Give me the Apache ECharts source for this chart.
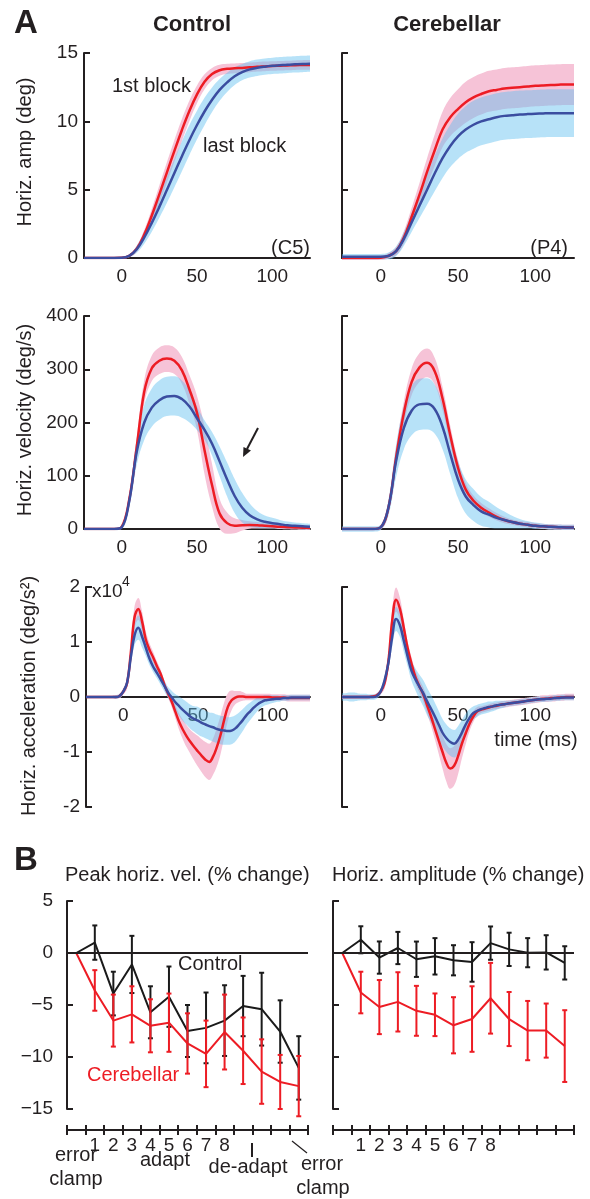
<!DOCTYPE html>
<html><head><meta charset="utf-8">
<script src="https://cdn.jsdelivr.net/npm/echarts@6/dist/echarts.min.js"></script>
<style>html,body{margin:0;padding:0;background:#fff}#c{width:590px;height:1199px}</style>
</head><body><div id="c"></div>
<script>
// ---------------- DATA ----------------
const timeMs = [-25,-20,-15,-10,-5,0,5,10,15,20,25,30,35,40,45,50,55,60,65,70,75,80,85,90,95,100,105,110,115,120,125];
const timeMsFine = [-25,-22.5,-20,-17.5,-15,-12.5,-10,-7.5,-5,-2.5,0,2.5,5,7.5,10,12.5,15,17.5,20,22.5,25,27.5,30,32.5,35,37.5,40,42.5,45,47.5,50,52.5,55,57.5,60,62.5,65,67.5,70,72.5,75,77.5,80,82.5,85,87.5,90,92.5,95,97.5,100,102.5,105,107.5,110,112.5,115,117.5,120,122.5,125];
const xTickLabels = ['0','50','100'];

// Amplitude (deg) - Control (C5)
const ampCtrlFirst   = [0,0,0,0,0, 0.01,0.16,0.68,1.71,3.11,4.66,6.25,7.84,9.37,10.77,11.97,12.89,13.46,13.74,13.84,13.88,13.91,13.95,13.99,14.02,14.05,14.07,14.09,14.11,14.12,14.13];
const ampCtrlFirstSd = [0.05,0.05,0.05,0.05,0.05, 0.05,0.1,0.2,0.35,0.5,0.65,0.75,0.8,0.8,0.75,0.65,0.55,0.45,0.4,0.38,0.36,0.35,0.35,0.35,0.35,0.35,0.35,0.35,0.35,0.35,0.35];
const ampCtrlLast    = [0,0,0,0,0, 0.01,0.15,0.64,1.5,2.57,3.74,4.97,6.22,7.45,8.64,9.73,10.72,11.58,12.3,12.85,13.3,13.6,13.8,13.92,14.0,14.06,14.1,14.14,14.17,14.2,14.22];
const ampCtrlLastSd  = [0.05,0.05,0.05,0.05,0.05, 0.05,0.1,0.25,0.45,0.65,0.8,0.95,1.05,1.1,1.1,1.05,1.0,0.9,0.8,0.7,0.65,0.6,0.6,0.6,0.6,0.6,0.6,0.6,0.6,0.6,0.6];
// Amplitude (deg) - Cerebellar (P4)
const ampCereFirst   = [0,0,0,0,0, 0.02,0.15,0.5,1.5,3.0,4.6,6.3,7.9,9.4,10.3,10.9,11.4,11.75,12.0,12.2,12.3,12.4,12.45,12.5,12.55,12.6,12.63,12.65,12.68,12.7,12.7];
const ampCereFirstSd = [0.15,0.15,0.15,0.15,0.15, 0.15,0.2,0.3,0.45,0.65,0.85,1.0,1.15,1.3,1.4,1.45,1.5,1.5,1.5,1.5,1.5,1.5,1.5,1.5,1.5,1.5,1.5,1.5,1.5,1.5,1.5];
const ampCereLast    = [0.1,0.1,0.1,0.1,0.1, 0.1,0.15,0.5,1.4,2.6,3.8,5.0,6.2,7.3,8.2,8.9,9.4,9.75,10.0,10.15,10.3,10.4,10.45,10.5,10.53,10.55,10.58,10.6,10.6,10.6,10.6];
const ampCereLastSd  = [0.2,0.2,0.2,0.2,0.2, 0.2,0.25,0.35,0.5,0.7,0.9,1.1,1.3,1.45,1.55,1.65,1.7,1.75,1.75,1.75,1.75,1.75,1.75,1.75,1.75,1.75,1.75,1.75,1.75,1.75,1.75];

// Velocity (deg/s)
const velCtrlFirst   = [0,0,0,0,0, 4,55,154,258,302,316,320,316,298,262,218,148,82,29,11,6,7,7.5,7,6,5,4,3.5,3,2.5,2];
const velCtrlFirstSd = [2,2,2,2,2, 3,10,18,22,24,25,25,25,25,27,32,45,40,28,20,14,10,7,6,5,4,4,4,4,4,4];
const velCtrlLast    = [0,0,0,0,0, 3,52,145,200,228,242,249,250,244,230,208,186,160,127,93,62,40,26,18,13.5,11,9,7,6,5,4];
const velCtrlLastSd  = [2,2,2,2,2, 3,12,25,33,36,37,37,37,35,30,22,18,22,28,32,32,28,22,16,12,10,8,7,6,6,6];
const velCereFirst   = [0,0,0,0,0, 3,40,135,218,276,303,312,296,245,176,115,74,53,40,31,23,17,13,10,8,6,5,4,3.5,3,3];
const velCereFirstSd = [3,3,3,3,3, 4,10,18,22,25,27,27,25,22,18,15,12,10,9,8,7,6,5,5,5,5,5,5,5,5,5];
const velCereLast    = [0,0,0,0,0, 3,40,128,190,222,234,235,225,192,141,93,61,45,33,27,21,17,13,10,8,6,5,4,3.5,3,3];
const velCereLastSd  = [5,5,5,5,5, 5,15,30,40,46,48,48,46,42,38,35,32,30,27,24,20,16,12,9,7,6,5,5,5,5,5];

// Acceleration (x10^4 deg/s^2), sampled every 2.5 ms
const accCtrlFirst   = [0,0,0,0,0,0,0,0, 0,0.02, 0.1,0.25,0.8,1.45,1.6,1.38,1.05,0.86,0.72,0.56,0.42,0.22,0.06, -0.09,-0.28,-0.46,-0.6,-0.72,-0.82,-0.91,-0.99,-1.07,-1.14,-1.18,-1.09, -0.92,-0.7,-0.42,-0.18,-0.06,-0.01,0.01,0.01, 0,0,0,0,0,0,0,-0.01,-0.01,-0.01,-0.01,-0.02,-0.02,-0.02,-0.02,-0.02,-0.02,-0.02];
const accCtrlFirstSd = [0.02,0.02,0.02,0.02,0.02,0.02,0.02,0.02, 0.03,0.04, 0.05,0.1,0.15,0.2,0.2,0.18,0.15,0.12,0.1,0.09,0.08,0.08,0.08, 0.1,0.12,0.15,0.18,0.2,0.22,0.25,0.28,0.3,0.32,0.33,0.33, 0.35,0.35,0.32,0.25,0.18,0.12,0.1,0.08, 0.06,0.06,0.06,0.06,0.06,0.06,0.06,0.06,0.06,0.06,0.06,0.06,0.06,0.06,0.06,0.06,0.06,0.06];
const accCtrlLast    = [0,0,0,0,0,0,0,0, 0,0.02, 0.1,0.26,0.72,1.12,1.26,1.1,0.9,0.7,0.55,0.44,0.32,0.2,0.08, -0.01,-0.1,-0.17,-0.24,-0.3,-0.36,-0.4,-0.43,-0.47,-0.5,-0.53,-0.55, -0.58,-0.6,-0.61,-0.62,-0.61,-0.57,-0.5,-0.42, -0.33,-0.26,-0.19,-0.13,-0.09,-0.06,-0.05,-0.04,-0.03,-0.03,-0.02,-0.02,-0.01,-0.01,-0.01,-0.01,-0.01,-0.01];
const accCtrlLastSd  = [0.02,0.02,0.02,0.02,0.02,0.02,0.02,0.02, 0.03,0.04, 0.05,0.08,0.12,0.18,0.22,0.2,0.15,0.12,0.1,0.1,0.1,0.1,0.1, 0.12,0.15,0.18,0.2,0.21,0.22,0.23,0.25,0.25,0.25,0.25,0.26, 0.26,0.26,0.26,0.25,0.25,0.24,0.22,0.2, 0.18,0.16,0.14,0.12,0.1,0.09,0.08,0.07,0.06,0.05,0.05,0.05,0.05,0.05,0.05,0.05,0.05,0.05];
const accCereFirst   = [0,0,0,0,0,0,0,0, 0.01,0.03, 0.1,0.25,0.65,1.4,1.77,1.6,1.25,0.88,0.6,0.36,0.2,0.05,-0.15, -0.35,-0.57,-0.79,-1.0,-1.2,-1.3,-1.25,-1.08,-0.85,-0.66,-0.48,-0.35, -0.26,-0.23,-0.21,-0.19,-0.17,-0.16,-0.14,-0.13, -0.12,-0.11,-0.1,-0.09,-0.08,-0.07,-0.06,-0.05,-0.04,-0.03,-0.03,-0.02,-0.02,-0.01,-0.01,0,0,0];
const accCereFirstSd = [0.03,0.03,0.03,0.03,0.03,0.03,0.03,0.03, 0.03,0.04, 0.05,0.1,0.15,0.2,0.22,0.2,0.15,0.12,0.12,0.12,0.12,0.13,0.15, 0.17,0.2,0.24,0.3,0.34,0.37,0.36,0.33,0.27,0.2,0.14,0.1, 0.08,0.06,0.06,0.06,0.06,0.06,0.06,0.06, 0.06,0.06,0.06,0.06,0.06,0.06,0.06,0.06,0.06,0.06,0.06,0.06,0.06,0.06,0.06,0.06,0.06,0.06];
const accCereLast    = [0,0,0,0,0,0,0,0, 0,0.02, 0.1,0.3,0.62,1.1,1.42,1.3,1.02,0.73,0.47,0.32,0.19,0.07,-0.08, -0.21,-0.35,-0.5,-0.65,-0.75,-0.82,-0.85,-0.78,-0.65,-0.5,-0.38,-0.29, -0.25,-0.22,-0.2,-0.18,-0.17,-0.15,-0.14,-0.13, -0.12,-0.11,-0.1,-0.09,-0.08,-0.07,-0.06,-0.05,-0.04,-0.04,-0.03,-0.03,-0.02,-0.02,-0.01,-0.01,-0.01,-0.01];
const accCereLastSd  = [0.07,0.07,0.08,0.08,0.07,0.06,0.06,0.05, 0.05,0.05, 0.06,0.08,0.12,0.18,0.22,0.21,0.2,0.18,0.18,0.2,0.22,0.24,0.25, 0.25,0.25,0.25,0.25,0.25,0.25,0.25,0.25,0.23,0.2,0.16,0.12, 0.11,0.1,0.1,0.1,0.09,0.08,0.07,0.06, 0.05,0.05,0.05,0.05,0.05,0.05,0.05,0.05,0.05,0.05,0.05,0.05,0.05,0.05,0.05,0.05,0.05,0.05];

// Panel B: blocks and % change
const blocks = ['ec0','1','2','3','4','5','6','7','8','d1','d2','d3','ec1'];
const pvCtrlMean = [0,1.0,-3.9,-1.1,-5.7,-4.2,-7.5,-7.2,-6.5,-5.1,-5.4,-7.55,-11.05];
const pvCtrlErr  = [0,1.65,2.1,2.75,2.5,2.9,2.5,3.4,3.4,2.9,3.5,3.0,3.05];
const pvCereMean = [0,-3.6,-6.5,-5.9,-7.0,-6.7,-8.7,-9.7,-7.6,-9.4,-11.4,-12.4,-12.8];
const pvCereErr  = [0,1.95,2.5,2.7,2.55,2.8,2.9,3.2,3.6,3.2,3.1,2.6,2.9];
const haCtrlMean = [0,1.27,-0.44,0.48,-0.6,-0.32,-0.7,-0.86,0.95,0.35,0.03,0.06,-0.95];
const haCtrlErr  = [0,1.3,1.55,1.55,1.7,1.75,1.45,1.9,1.6,1.6,1.4,1.65,1.6];
const haCereMean = [0,-3.8,-5.2,-4.7,-5.56,-5.94,-6.95,-6.35,-4.35,-6.35,-7.46,-7.46,-8.95];
const haCereErr  = [0,2.0,2.6,2.85,2.4,2.05,2.7,3.15,3.4,2.6,2.85,2.6,3.45];

// ---------------- STYLE ----------------
const INK = '#231f20', RED = '#ED1C24', BLUE = '#3B4DA0', PINK = '#F6C3D7', LBLUE = 'rgba(95,190,240,0.45)', BLACK = '#1a1a1a';
const FONT = '"Liberation Sans", Arial, Helvetica, sans-serif';
const TICKFS = 19, TXTFS = 20;

const chart = echarts.init(document.getElementById('c'), null, {renderer:'canvas'});

const grids = [
  {left:84, top:53, width:226, height:205},
  {left:342, top:53, width:232, height:205},
  {left:84, top:316, width:226, height:213},
  {left:342, top:316, width:232, height:213},
  {left:86, top:587, width:224, height:220},
  {left:342, top:587, width:232, height:220},
  {left:67, top:901, width:241, height:208},
  {left:333, top:901, width:241, height:208}
];
const yRanges = [
  {min:0,max:15,interval:5},{min:0,max:15,interval:5},
  {min:0,max:400,interval:100},{min:0,max:400,interval:100},
  {min:-2,max:2,interval:1},{min:-2,max:2,interval:1}
];
const xAxes = [], yAxes = [], series = [];

for (let g = 0; g < 6; g++) {
  const isAcc = g >= 4;
  xAxes.push({
    type:'category', gridIndex:g, data:(isAcc ? timeMsFine : timeMs).map(String), boundaryGap:false, position:'bottom',
    // acceleration rows: the time axis sits on the zero line (half the grid height up)
    offset: isAcc ? -grids[g].height / 2 : 0,
    axisLine:{show:true, onZero:false, lineStyle:{color:INK, width:2}},
    axisTick:{show:false},
    axisLabel:{interval:(i, v) => xTickLabels.includes(v), color:INK, fontSize:TICKFS, fontFamily:FONT, margin:9},
    splitLine:{show:false}
  });
  yAxes.push(Object.assign({
    type:'value', gridIndex:g,
    axisLine:{show:true, onZero:false, lineStyle:{color:INK, width:2}},
    axisTick:{show:true, inside:true, length:6, lineStyle:{color:INK, width:2}},
    axisLabel:{show: g % 2 === 0, color:INK, fontSize:TICKFS, fontFamily:FONT, margin:6},
    splitLine:{show:false}
  }, yRanges[g]));
}
const fmtMinus = v => (v < 0 ? '\u2212' + Math.abs(v) : String(v));
for (let k = 0; k < 2; k++) {
  const g = 6 + k;
  xAxes.push({
    type:'category', gridIndex:g, data:blocks, boundaryGap:true, offset:21, position:'bottom',
    axisLine:{show:true, onZero:false, lineStyle:{color:INK, width:2}},
    axisTick:{show:true, inside:false, length:5, interval:0, lineStyle:{color:INK, width:2}},
    axisLabel:{interval:0, formatter: v => (/^\d$/.test(v) ? v : ''), color:INK, fontSize:TICKFS, fontFamily:FONT, margin:6},
    splitLine:{show:false}
  });
  yAxes.push({
    type:'value', gridIndex:g, min:-15, max:5, interval:5,
    axisLine:{show:true, onZero:false, lineStyle:{color:INK, width:2}},
    axisTick:{show:true, inside:true, length:6, lineStyle:{color:INK, width:2}},
    axisLabel:{show: k === 0, formatter: fmtMinus, color:INK, fontSize:TICKFS, fontFamily:FONT, margin:14},
    splitLine:{show:false}
  });
}
// inside ticks for panel B x axes (ticks crossing the axis line)
for (let k = 0; k < 2; k++) {
  xAxes.push({
    type:'category', gridIndex:6 + k, data:blocks, boundaryGap:true, offset:21, position:'bottom',
    axisLine:{show:false, onZero:false},
    axisTick:{show:true, inside:true, length:5, interval:0, lineStyle:{color:INK, width:2}},
    axisLabel:{show:false}, splitLine:{show:false}
  });
}

function band(g, mean, sd, color, key, sm) {
  const lower = mean.map((m, i) => +(m - sd[i]).toFixed(4));
  const width = sd.map(s => +(2 * s).toFixed(4));
  const common = {type:'line', xAxisIndex:g, yAxisIndex:g, stack:key, stackStrategy:'all', smooth:sm, clip:false,
    symbol:'none', silent:true, z:1, lineStyle:{width:0, opacity:0}};
  return [
    Object.assign({}, common, {data:lower}),
    Object.assign({}, common, {data:width, areaStyle:{color:color, opacity:1}})
  ];
}
function meanLine(g, mean, color, z, sm) {
  return {type:'line', xAxisIndex:g, yAxisIndex:g, data:mean, smooth:sm, symbol:'none', silent:true, z:z,
    lineStyle:{color:color, width:2.5}};
}
const panels = [
  [ampCtrlFirst, ampCtrlFirstSd, ampCtrlLast, ampCtrlLastSd],
  [ampCereFirst, ampCereFirstSd, ampCereLast, ampCereLastSd],
  [velCtrlFirst, velCtrlFirstSd, velCtrlLast, velCtrlLastSd],
  [velCereFirst, velCereFirstSd, velCereLast, velCereLastSd],
  [accCtrlFirst, accCtrlFirstSd, accCtrlLast, accCtrlLastSd],
  [accCereFirst, accCereFirstSd, accCereLast, accCereLastSd]
];
panels.forEach((p, g) => {
  const sm = 0.4;
  series.push(...band(g, p[0], p[1], PINK, 'first' + g, sm));
  series.push(...band(g, p[2], p[3], LBLUE, 'last' + g, sm));
  series.push(meanLine(g, p[0], RED, 3, sm));
  series.push(meanLine(g, p[2], BLUE, 4, sm));
});

function errBars(g, mean, err, color, z) {
  return {
    type:'custom', xAxisIndex:g, yAxisIndex:g, z:z, silent:true,
    data: mean.map((m, i) => [i, +(m - err[i]).toFixed(3), +(m + err[i]).toFixed(3)]),
    encode:{x:0, y:[1, 2]},
    renderItem: function (params, api) {
      const i = api.value(0), lo = api.value(1), hi = api.value(2);
      if (hi - lo <= 0) return {type:'group', children:[]};
      const a = api.coord([i, lo]), b = api.coord([i, hi]);
      const w = 2.5, st = {stroke:color, lineWidth:2};
      return {type:'group', children:[
        {type:'line', shape:{x1:a[0], y1:a[1], x2:b[0], y2:b[1]}, style:st},
        {type:'line', shape:{x1:a[0]-w, y1:a[1], x2:a[0]+w, y2:a[1]}, style:st},
        {type:'line', shape:{x1:b[0]-w, y1:b[1], x2:b[0]+w, y2:b[1]}, style:st}
      ]};
    }
  };
}
function bLine(g, mean, color, z, withZero) {
  const s = {type:'line', xAxisIndex:g, yAxisIndex:g, data:mean, symbol:'none', silent:true, z:z,
    lineStyle:{color:color, width:2}};
  if (withZero) s.markLine = {silent:true, symbol:'none', label:{show:false},
    lineStyle:{color:INK, width:2, type:'solid'}, data:[{yAxis:0}]};
  return s;
}
series.push(errBars(6, pvCtrlMean, pvCtrlErr, BLACK, 3), bLine(6, pvCtrlMean, BLACK, 3, true));
series.push(errBars(6, pvCereMean, pvCereErr, RED, 4), bLine(6, pvCereMean, RED, 4, false));
series.push(errBars(7, haCtrlMean, haCtrlErr, BLACK, 3), bLine(7, haCtrlMean, BLACK, 3, true));
series.push(errBars(7, haCereMean, haCereErr, RED, 4), bLine(7, haCereMean, RED, 4, false));

// ---------------- TEXT ANNOTATIONS ----------------
function txt(text, x, y, opt) {
  opt = opt || {};
  return {type:'text', x:x, y:y, rotation:opt.rot || 0, z:100, silent:true,
    style:{text:text, fill:opt.color || INK, fontSize:opt.fs || TXTFS, fontWeight:opt.fw || 'normal', fontFamily:FONT,
      align:opt.align || 'center', verticalAlign:'middle', textAlign:opt.align || 'center', textVerticalAlign:'middle'}};
}
const graphics = [
  txt('A', 26, 24, {fs:33, fw:'bold'}),
  txt('Control', 192, 25, {fs:22, fw:'bold'}),
  txt('Cerebellar', 447, 25, {fs:22, fw:'bold'}),
  txt('Horiz. amp (deg)', 25, 152, {rot:Math.PI/2}),
  txt('Horiz. velocity (deg/s)', 25, 420, {rot:Math.PI/2}),
  txt('Horiz. acceleration (deg/s\u00B2)', 29, 696, {rot:Math.PI/2}),
  txt('1st block', 112, 86, {align:'left'}),
  txt('last block', 203, 146, {align:'left'}),
  txt('(C5)', 310, 248, {align:'right'}),
  txt('(P4)', 568, 248, {align:'right'}),
  txt('x10', 92, 592, {align:'left', fs:19}),
  txt('4', 122, 582, {align:'left', fs:14}),
  txt('time (ms)', 536, 740),
  txt('B', 26, 861, {fs:33, fw:'bold'}),
  txt('Peak horiz. vel. (% change)', 65, 875, {align:'left'}),
  txt('Horiz. amplitude (% change)', 332, 875, {align:'left'}),
  txt('Control', 178, 964, {align:'left'}),
  txt('Cerebellar', 87, 1075, {align:'left', color:RED}),
  txt('error', 76, 1155),
  txt('clamp', 76, 1179),
  txt('adapt', 165, 1160),
  txt('de-adapt', 248, 1167),
  txt('error', 322, 1164),
  txt('clamp', 323, 1188),
  {type:'line', silent:true, shape:{x1:252, y1:1143, x2:252, y2:1157}, style:{stroke:INK, lineWidth:2}},
  {type:'line', silent:true, shape:{x1:292, y1:1141, x2:307, y2:1153}, style:{stroke:INK, lineWidth:1.2}},
  {type:'line', silent:true, shape:{x1:258, y1:428, x2:247, y2:449}, style:{stroke:INK, lineWidth:2}},
  {type:'polygon', silent:true, shape:{points:[[243,457],[251,450.5],[243.5,447]]}, style:{fill:INK}}
];

chart.setOption({
  animation:false,
  backgroundColor:'#fff',
  textStyle:{fontFamily:FONT},
  grid:grids,
  xAxis:xAxes,
  yAxis:yAxes,
  series:series,
  graphic:graphics
});
</script></body></html>
